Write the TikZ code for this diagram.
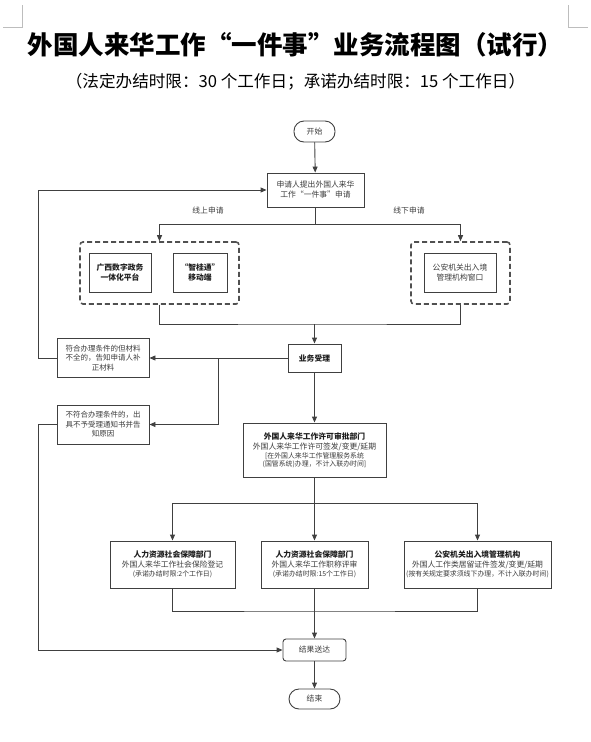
\documentclass[tikz,border=0pt]{standalone}
\usepackage{fontspec}
\setmainfont{Noto Sans CJK SC}
\usetikzlibrary{arrows.meta}
\definecolor{lnc}{HTML}{404040}
\definecolor{txc}{HTML}{3C3C3C}
\definecolor{bdc}{HTML}{1E1E1E}
\definecolor{dashc}{HTML}{505050}
\definecolor{markc}{HTML}{BDBDBD}
\newcommand\sml{\fontsize{6.9}{8.2}\selectfont}
\newcommand\bdl[1]{{\bfseries\color{bdc}#1}}
\begin{document}
\begin{tikzpicture}[x=1pt,y=-1pt,
  box/.style={draw=lnc, line width=0.9pt, fill=white, inner sep=1pt, align=center,
    font=\fontsize{7.8}{10}\selectfont, text=txc},
  pill/.style={box, rounded corners=10pt},
  dbox/.style={draw=dashc, line width=1.6pt, dash pattern=on 5pt off 3pt, rounded corners=3pt},
  ar/.style={draw=lnc, line width=0.9pt, -{Triangle[length=6pt,width=5pt]}},
  ln/.style={draw=lnc, line width=0.9pt},
  lbl/.style={font=\fontsize{7.8}{10}\selectfont, text=txc, inner sep=0pt},
  cornermk/.style={draw=markc, line width=0.8pt}]
\useasboundingbox (0,0) rectangle (591,742);
% corner marks
\draw[cornermk] (22,5) -- (22,27) -- (3,27);
\draw[cornermk] (568,5) -- (568,27) -- (588,27);
% titles
\node[inner sep=0pt, font=\fontsize{25.5}{28}\selectfont\bfseries] (title) at (295.5,45) {外国人来华工作“一件事”业务流程图（试行）};
\node[inner sep=0pt, font=\fontsize{16.6}{18}\selectfont] (subtitle) at (295.5,82) {（法定办结时限：30 个工作日；承诺办结时限：15 个工作日）};
% nodes
\node[pill, minimum width=41pt, minimum height=21pt] (start) at (314.5,131.5) {开始};
\node[box, minimum width=97pt, minimum height=34pt] (apply) at (315.5,190) {申请人提出外国人来华\\工作“一件事”申请};
\node[dbox, minimum width=159pt, minimum height=62pt] (ldash) at (159.5,273) {};
\node[box, minimum width=62pt, minimum height=39pt] (gx) at (120,272.5) {\bdl{广西数字政务}\\\bdl{一体化平台}};
\node[box, minimum width=54pt, minimum height=39pt] (zgt) at (200,272.5) {\bdl{“智桂通”}\\\bdl{移动端}};
\node[dbox, minimum width=99pt, minimum height=62pt] (rdash) at (460.5,273) {};
\node[box, minimum width=72pt, minimum height=39pt] (ga) at (460,272.5) {公安机关出入境\\管理机构窗口};
\node[box, minimum width=53pt, minimum height=28pt] (accept) at (314.5,358) {\bdl{业务受理}};
\node[box, minimum width=92pt, minimum height=39pt, font=\fontsize{7.5}{9.6}\selectfont] (n1) at (103,358) {符合办理条件的但材料\\不全的，告知申请人补\\正材料};
\node[box, minimum width=92pt, minimum height=39pt, font=\fontsize{7.5}{9.6}\selectfont] (n2) at (103,424.5) {不符合办理条件的，出\\具不予受理通知书并告\\知原因};
\node[box, minimum width=143pt, minimum height=54pt] (lic) at (314.5,450) {\bdl{外国人来华工作许可审批部门}\\外国人来华工作许可签发/变更/延期\\[-1pt]{\sml [在外国人来华工作管理服务系统}\\[-2pt]{\sml (国管系统)办理，不计入联办时间]}};
\node[box, minimum width=125pt, minimum height=47pt] (ba) at (172.5,564.5) {\bdl{人力资源社会保障部门}\\外国人来华工作社会保险登记\\[-1pt]{\sml (承诺办结时限:2个工作日)}};
\node[box, minimum width=107pt, minimum height=47pt] (bb) at (314.5,564.5) {\bdl{人力资源社会保障部门}\\外国人来华工作职称评审\\[-1pt]{\sml (承诺办结时限:15个工作日)}};
\node[box, minimum width=147pt, minimum height=47pt] (bc) at (477.5,564.5) {\bdl{公安机关出入境管理机构}\\外国人工作类居留证件签发/变更/延期\\[-1pt]{\sml (按有关规定要求须线下办理，不计入联办时间)}};
\node[box, rounded corners=3pt, minimum width=63pt, minimum height=22pt] (res) at (314.5,650) {结果送达};
\node[pill, minimum width=51pt, minimum height=20pt] (end) at (314.5,699) {结束};
% labels
\node[lbl] (on) at (208,211) {线上申请};
\node[lbl] (off) at (409,211) {线下申请};
% coordinates
\coordinate (s1) at (315.5,224);
\coordinate (m1) at (314.5,324);
\coordinate (b1) at (218,358);
\coordinate (L1) at (38,358);
\coordinate (L2) at (38,424.5);
\coordinate (s2) at (314.5,503);
\coordinate (m2) at (314.5,611);
% connectors
\draw[ar] (start) -- (apply);
\draw[ln] (apply.south) -- (s1);
\draw[ar] (s1) -| (ldash.north);
\draw[ar] (s1) -| (rdash.north);
\draw[ln] (ldash.south) |- (m1) -| (rdash.south);
\draw[ar] (m1) -- (accept.north);
\draw[ar] (accept.west) -- (n1.east);
\draw[ar] (b1) |- (n2.east);
\draw[ar] (n1.west) -- (L1) |- (apply.west);
\draw[ar] (n2.west) -- (L2) |- (res.west);
\draw[ar] (accept.south) -- (lic.north);
\draw[ln] (lic.south) -- (s2);
\draw[ar] (s2) -| (ba.north);
\draw[ar] (s2) -- (bb.north);
\draw[ar] (s2) -| (bc.north);
\draw[ln] (ba.south) |- (m2) -| (bc.south);
\draw[ar] (bb.south) -- (res.north);
\draw[ar] (res.south) -- (end.north);
\end{tikzpicture}
\end{document}
